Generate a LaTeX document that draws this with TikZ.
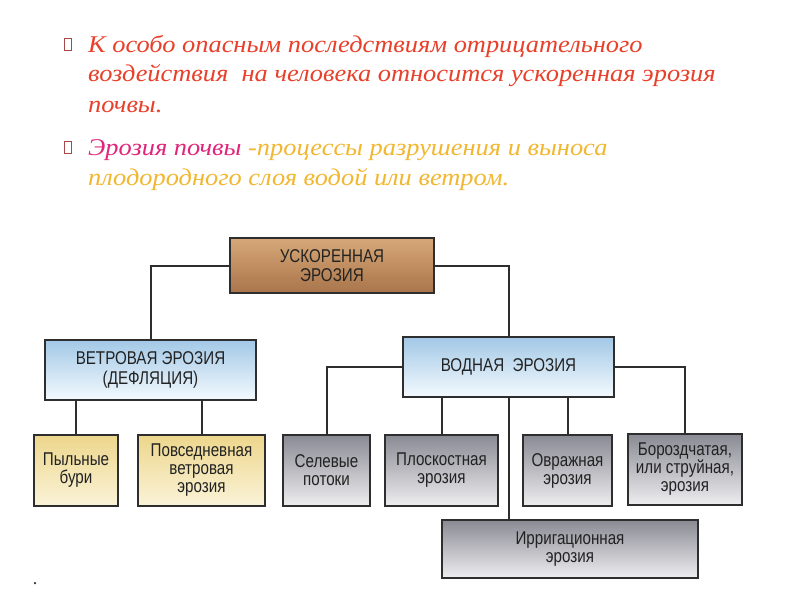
\documentclass[tikz,border=0pt]{standalone}
\usepackage{fontspec}
\setmainfont{Liberation Serif}
\newfontfamily\headfont[FakeStretch=1.1]{Liberation Serif}
\newfontfamily\boxfont[FakeStretch=0.82]{Liberation Sans}
\usetikzlibrary{positioning}
\definecolor{headred}{HTML}{E8402A}
\definecolor{headpink}{HTML}{E0257A}
\definecolor{headgold}{HTML}{F2B731}
\definecolor{bulletred}{HTML}{A84848}
\definecolor{boxline}{HTML}{2E2E2E}
\definecolor{boxtext}{HTML}{222222}
\definecolor{brownhi}{HTML}{D6A878}
\definecolor{brownlo}{HTML}{A9744A}
\definecolor{bluehi}{HTML}{A2C8E6}
\definecolor{bluelo}{HTML}{F4FAFE}
\definecolor{sandhi}{HTML}{EDD68C}
\definecolor{sandlo}{HTML}{FAF3D8}
\definecolor{greyhi}{HTML}{8A8A94}
\definecolor{greylo}{HTML}{EEEEF0}

\begin{document}
\begin{tikzpicture}[
    x=1pt, y=-1pt,
    every node/.style={text=boxtext},
  ]

  % Page
  \useasboundingbox (0,0) rectangle (800,600);
  \fill[white] (0,0) rectangle (800,600);

  % --- Styles ---
  \tikzset{
    headline/.style={anchor=base west, inner sep=0pt,
                     font=\headfont\fontsize{24}{30}\selectfont\itshape},
    bulletbox/.style={draw=bulletred, line width=0.6pt, inner sep=0pt,
                      minimum width=7, minimum height=12},
    box/.style={draw=boxline, line width=2pt, align=center, inner sep=0pt,
                font=\boxfont\fontsize{18.5}{18}\selectfont},
    capsbox/.style={box, font=\boxfont\fontsize{18.5}{19.5}\selectfont},
    brownbox/.style={capsbox, top color=brownhi, bottom color=brownlo},
    bluebox/.style={capsbox, top color=bluehi, bottom color=bluelo},
    sandbox/.style={box, top color=sandhi, bottom color=sandlo},
    greybox/.style={box, top color=greyhi, bottom color=greylo},
    link/.style={draw=boxline, line width=2pt},
  }

  % --- Header text ---
  \node[bulletbox] (b1) at (67.5,44) {};
  \node[headline, text=headred] (h1) at (88,52)
    {К особо опасным последствиям отрицательного};
  \node[headline, text=headred] (h2) at (88,81)
    {воздействия\ \ на человека относится ускоренная эрозия};
  \node[headline, text=headred] (h3) at (88,112) {почвы.};
  \node[bulletbox] (b2) at (67.5,147) {};
  \node[headline, text=headpink] (h4) at (88,155)
    {Эрозия почвы \textcolor{headgold}{ -процессы разрушения и выноса}};
  \node[headline, text=headgold] (h5) at (88,185)
    {плодородного слоя водой или ветром.};

  % --- Top ---
  \node[brownbox, minimum width=204, minimum height=55] (fast) at (332,265.5)
    {УСКОРЕННАЯ\\ЭРОЗИЯ};

  % --- Second row ---
  \node[bluebox, minimum width=211, minimum height=60] (wind) at (150.5,370)
    {ВЕТРОВАЯ ЭРОЗИЯ\\(ДЕФЛЯЦИЯ)};
  \node[bluebox, minimum width=211, minimum height=60] (water) at (508.5,367)
    {ВОДНАЯ\ \ ЭРОЗИЯ};

  % --- Third row ---
  \node[sandbox, minimum width=84, minimum height=71] (dust) at (76,470.5)
    {Пыльные\\бури};
  \node[sandbox, minimum width=127, minimum height=71] (daily) at (201.5,470.5)
    {Повседневная\\ветровая\\эрозия};
  \node[greybox, minimum width=87, minimum height=71] (mud) at (326.5,470.5)
    {Селевые\\потоки};
  \node[greybox, minimum width=113, minimum height=71] (sheet) at (441.5,470.5)
    {Плоскостная\\эрозия};
  \node[greybox, minimum width=89, minimum height=71] (gully) at (567.5,470.5)
    {Овражная\\эрозия};
  \node[greybox, minimum width=114, minimum height=71] (rill) at (685,469.5)
    {Бороздчатая,\\или струйная,\\эрозия};
  \node[greybox, minimum width=256, minimum height=58] (irrig) at (570,549)
    {Ирригационная\\эрозия};

  % stray dot of the scan
  \node[circle, fill=boxline, inner sep=0pt, minimum size=2.5] (dot) at (35,583) {};

  % --- Connectors ---
  \draw[link] (fast.west) -| (wind.north);
  \draw[link] (fast.east) -| (water.north);

  \draw[link] (dust.north) -- (dust.north |- wind.south);
  \draw[link] (daily.north) -- (daily.north |- wind.south);

  \draw[link] (water.west) -| (mud.north);
  \draw[link] (water.east) -| (rill.north);
  \draw[link] (sheet.north) -- (sheet.north |- water.south);
  \draw[link] (gully.north) -- (gully.north |- water.south);
  \draw[link] (water.south) -- (water.south |- irrig.north);

\end{tikzpicture}
\end{document}
